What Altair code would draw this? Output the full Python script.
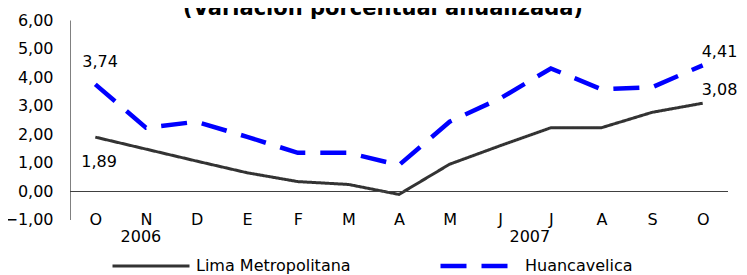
import altair as alt
import pandas as pd

# ---- data ----
meses = ["Oct-06", "Nov-06", "Dic-06", "Ene-07", "Feb-07", "Mar-07", "Abr-07",
         "May-07", "Jun-07", "Jul-07", "Ago-07", "Sep-07", "Oct-07"]
lima = [1.89, 1.47, 1.05, 0.64, 0.33, 0.23, -0.12, 0.94, 1.59, 2.22, 2.22, 2.76, 3.08]
huancavelica = [3.74, 2.22, 2.43, 1.90, 1.34, 1.34, 0.91, 2.43, 3.25, 4.30, 3.57, 3.64, 4.41]
series = ["Lima Metropolitana", "Huancavelica"]
anios = ["2006", "2007"]
anio_mes = ["Nov-06", "Jul-07"]
y_ticks = [-1, 0, 1, 2, 3, 4, 5, 6]
titulo = "(Variación porcentual anualizada)"

rows = []
for i, m in enumerate(meses):
    rows.append({"mes": m, "serie": series[0], "v": lima[i], "idx": i})
    rows.append({"mes": m, "serie": series[1], "v": huancavelica[i], "idx": i})
df = pd.DataFrame(rows)

FONT = "DejaVu Sans"
fmt = "replace(format(datum.v, '.2f'), '.', ',')"

x_axis = alt.Axis(title=None, domain=False, ticks=False, tickSize=0,
                  labelExpr="slice(datum.label, 0, 1)", labelAngle=0,
                  labelOverlap=False,
                  labelPadding=-8, labelFontSize=16, labelColor="#000000",
                  labelFont=FONT)
y_axis = alt.Axis(title=None, values=y_ticks, grid=False, ticks=False, tickSize=0,
                  labelExpr="replace(format(datum.value, '.2f'), '.', ',')",
                  labelOverlap=False, labelBound=False,
                  domainColor="#808080", domainWidth=1, labelPadding=17,
                  labelFontSize=16, labelColor="#000000", labelFont=FONT)
x_scale = alt.Scale(domain=meses)
y_scale = alt.Scale(domain=[-1, 6], nice=False, zero=False)

def X():
    return alt.X("mes:N", sort=meses, scale=x_scale, axis=x_axis)

def Y():
    return alt.Y("v:Q", scale=y_scale, axis=y_axis)

base = alt.Chart(df)

leg = alt.Legend(title=None, orient="none", direction="horizontal",
                 legendX=41, legendY=205, columnPadding=80,
                 symbolType="stroke", symbolSize=5929,
                 symbolStrokeWidth=3.5, labelFontSize=16,
                 labelFont=FONT, labelColor="#000000",
                 labelOffset=5, padding=0)

lines = base.mark_line(strokeCap="butt", strokeJoin="miter").encode(
    x=X(), y=Y(),
    color=alt.Color("serie:N", scale=alt.Scale(domain=series, range=["#333333", "#0000ff"]),
                    legend=leg),
    strokeDash=alt.StrokeDash("serie:N", scale=alt.Scale(domain=series, range=[[1, 0], [26, 15]]),
                              legend=leg),
    strokeWidth=alt.StrokeWidth("serie:N", scale=alt.Scale(domain=series, range=[3, 4.5]),
                                legend=None),
    order="idx:Q",
)

zero = alt.Chart(pd.DataFrame({"v": [0]})).mark_rule(
    color="#404040", strokeWidth=1, yOffset=0.5).encode(y=Y())

def etiqueta(serie, idx, dx, dy, align):
    return base.transform_filter(
        (alt.datum.serie == serie) & (alt.datum.idx == idx)
    ).transform_calculate(lab=fmt).mark_text(
        dx=dx, dy=dy, align=align, baseline="middle", fontSize=16, font=FONT, color="#000000"
    ).encode(x=X(), y=Y(), text="lab:N")

lab1 = etiqueta(series[1], 0, -13, -22, "left")
lab2 = etiqueta(series[0], 0, -14, 25, "left")
lab3 = etiqueta(series[1], 12, -1, -13, "left")
lab4 = etiqueta(series[0], 12, -1, -13, "left")

df_y = pd.DataFrame({"mes": anio_mes, "anio": anios, "v": [-1, -1]})
yr1 = alt.Chart(df_y).transform_filter(alt.datum.anio == anios[0]).mark_text(
    dx=-5, dy=17, baseline="middle", fontSize=16, font=FONT, color="#000000").encode(
    x=X(), y=Y(), text="anio:N")
yr2 = alt.Chart(df_y).transform_filter(alt.datum.anio == anios[1]).mark_text(
    dx=-21, dy=17, baseline="middle", fontSize=16, font=FONT, color="#000000").encode(
    x=X(), y=Y(), text="anio:N")

# title annotation (the reference shows it cut off at the top edge)
title_mark = alt.Chart(pd.DataFrame({"t": [titulo]})).mark_text(
    fontSize=21, fontWeight="bold", font=FONT, color="#000000",
    align="center", baseline="alphabetic").encode(
    x=alt.value(313), y=alt.value(-5), text="t:N")

chart = alt.layer(lines, zero, lab1, lab2, lab3, lab4, yr1, yr2, title_mark).properties(
    width=658, height=199.5,
    autosize=alt.AutoSizeParams(type="none"),
    padding={"left": 62, "top": 12, "right": 11, "bottom": 56},
).configure(font=FONT).configure_view(stroke=None)

chart.save("out.html", embed_options={"renderer": "svg", "actions": False})
